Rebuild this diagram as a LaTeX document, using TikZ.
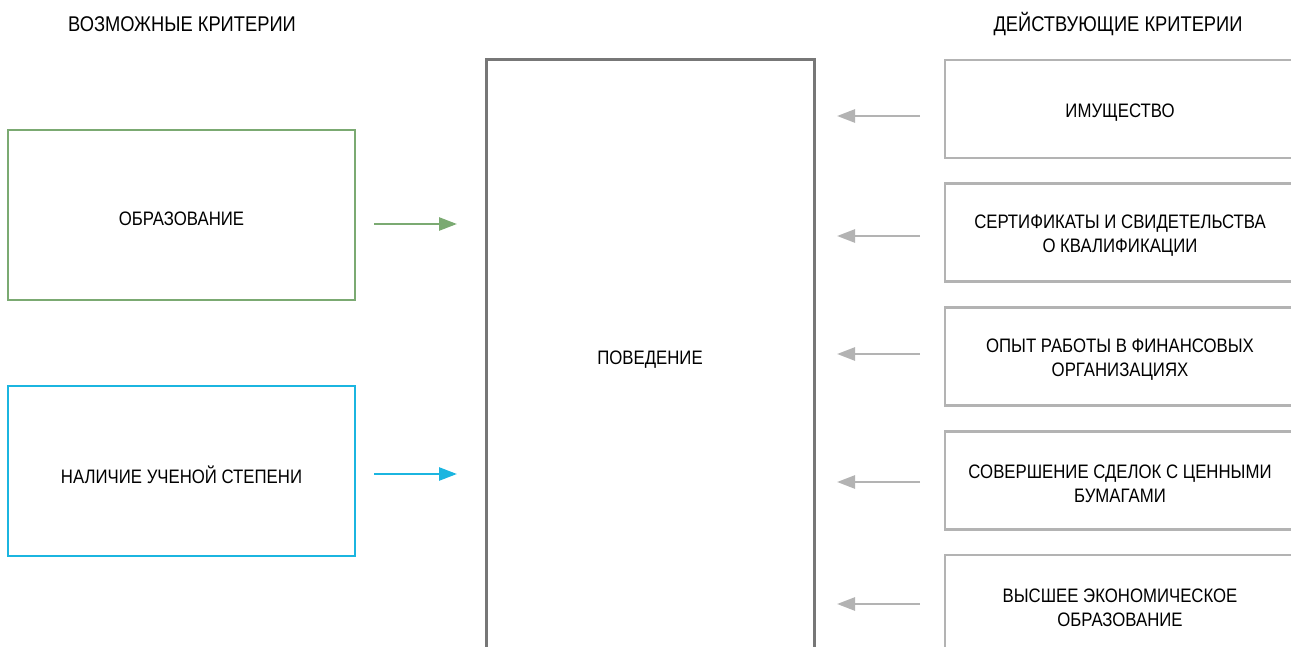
\documentclass[tikz,border=0pt]{standalone}
\usepackage{fontspec}
\setmainfont{Liberation Sans}[FakeStretch=0.86]
\usetikzlibrary{arrows.meta}
\definecolor{grn}{HTML}{7BAA72}
\definecolor{cyn}{HTML}{1BB5E0}
\definecolor{dgr}{HTML}{777777}
\definecolor{lgr}{HTML}{B3B3B3}
\tikzset{
  lbl/.style={font=\fontsize{19.5}{24}\selectfont, align=center, text=black, yshift=-3.5pt},
  hdr/.style={font=\fontsize{21.3}{24}\selectfont, text=black},
  lbox/.style={draw, line width=2.4pt, minimum width=347pt, minimum height=170pt},
  rbox/.style={draw=lgr, line width=2.6pt, minimum width=350pt, minimum height=98pt},
  arr/.style={line width=2.6pt, -{Triangle[length=18pt,width=13pt]}},
}
\begin{document}
\begin{tikzpicture}[x=1pt,y=-1pt]
\useasboundingbox (0,0) rectangle (1291,647);
\clip (0,0) rectangle (1291,647);
\node[hdr] (h1) at (182,24) {ВОЗМОЖНЫЕ КРИТЕРИИ};
\node[hdr] (h2) at (1118,24) {ДЕЙСТВУЮЩИЕ КРИТЕРИИ};
\node[lbox, draw=grn, label={[lbl]center:ОБРАЗОВАНИЕ}] (edu) at (181.5,215) {};
\node[lbox, draw=cyn, label={[lbl]center:НАЛИЧИЕ УЧЕНОЙ СТЕПЕНИ}] (deg) at (181.5,471) {};
\node[draw=dgr, line width=3pt, minimum width=328pt, minimum height=592pt, label={[lbl]center:ПОВЕДЕНИЕ}] (beh) at (650,356) {};
\node[rbox, label={[lbl]center:ИМУЩЕСТВО}] (r1) at (1120,109) {};
\node[rbox, label={[lbl]center:{СЕРТИФИКАТЫ И СВИДЕТЕЛЬСТВА\\О КВАЛИФИКАЦИИ}}] (r2) at (1120,232.5) {};
\node[rbox, label={[lbl]center:{ОПЫТ РАБОТЫ В ФИНАНСОВЫХ\\ОРГАНИЗАЦИЯХ}}] (r3) at (1120,356.5) {};
\node[rbox, label={[lbl]center:{СОВЕРШЕНИЕ СДЕЛОК С ЦЕННЫМИ\\БУМАГАМИ}}] (r4) at (1120,480.5) {};
\node[rbox, label={[lbl]center:{ВЫСШЕЕ ЭКОНОМИЧЕСКОЕ\\ОБРАЗОВАНИЕ}}] (r5) at (1120,604) {};
\coordinate (g1) at (374,224); \coordinate (g2) at (457,224);
\coordinate (c1) at (374,474); \coordinate (c2) at (457,474);
\draw[arr, grn] (g1) -- (g2);
\draw[arr, cyn] (c1) -- (c2);
\foreach \i/\y in {1/116,2/236,3/354,4/482,5/604}{
  \coordinate (s\i) at (920,\y); \coordinate (e\i) at (837,\y);
  \draw[arr, lgr] (s\i) -- (e\i);
}
\end{tikzpicture}
\end{document}
